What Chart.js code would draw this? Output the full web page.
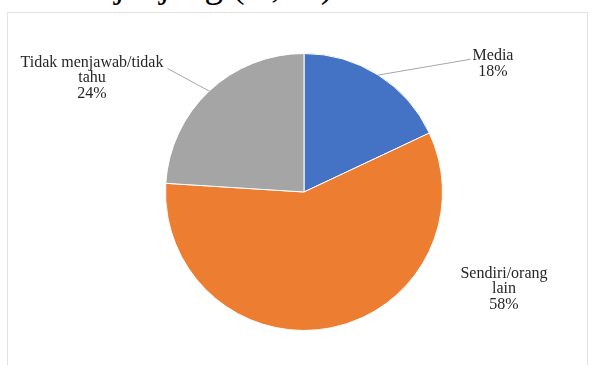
<!DOCTYPE html>
<html>
<head>
<meta charset="utf-8">
<script src="https://cdn.jsdelivr.net/npm/chart.js@4.4.1/dist/chart.umd.min.js"></script>
<style>
  html, body { margin: 0; padding: 0; background: #fff; overflow: hidden; }
  #page { position: relative; width: 595px; height: 365px; overflow: hidden; }
  #caption {
    position: absolute; right: 262px; top: 0; height: 8px; overflow: hidden;
    font: 37px "Liberation Serif", serif; line-height: 8px;
    white-space: nowrap; color: #000;
  }
  #caption span { position: relative; top: -19px; }
  #frame {
    position: absolute; left: 7px; top: 12px; width: 581px; height: 370px;
    border: 1px solid #e3e3e3; box-sizing: border-box;
  }
  #chart { position: absolute; left: 0; top: 0; }
</style>
</head>
<body>
<div id="page">
  <div id="caption"><span>Sumber informasi menurut jenjang (N, %)</span></div>
  <div id="frame"></div>
  <canvas id="chart" width="595" height="365"></canvas>
</div>
<script>
const labels = ["Media", "Sendiri/orang lain", "Tidak menjawab/tidak tahu"];
const values = [18, 58, 24];
const labelLines = [["Media", "18%"], ["Sendiri/orang", "lain", "58%"], ["Tidak menjawab/tidak", "tahu", "24%"]];
const colors = ["#4472c4", "#ed7d31", "#a5a5a5"];

// where each label block sits, relative to the pie centre, and whether it gets a leader line
const labelSpots = [
  { dx: 189, dy: -128, leader: true },
  { dx: 200, dy: 97, leader: false },
  { dx: -212, dy: -114, leader: true }
];

const outsideLabels = {
  id: 'outsideLabels',
  afterDatasetsDraw(chart) {
    const ctx = chart.ctx;
    const arcs = chart.getDatasetMeta(0).data;
    ctx.save();
    ctx.font = '16px "Liberation Serif", serif';
    ctx.textAlign = 'center';
    ctx.textBaseline = 'middle';
    arcs.forEach((arc, i) => {
      const { x, y, startAngle, endAngle, outerRadius } = arc.getProps(['x', 'y', 'startAngle', 'endAngle', 'outerRadius'], true);
      const spot = labelSpots[i];
      const lines = labelLines[i];
      const lx = x + spot.dx;
      const ly = y + spot.dy;
      const lh = 15.5;
      const top = ly - (lines.length - 1) * lh / 2;
      if (spot.leader) {
        const mid = (startAngle + endAngle) / 2;
        const sx = x + Math.cos(mid) * outerRadius;
        const sy = y + Math.sin(mid) * outerRadius;
        const half = ctx.measureText(lines[0]).width / 2;
        const ex = spot.dx > 0 ? lx - half - 2 : lx + half + 4;
        const ey = spot.dx > 0 ? top + 3 : top + 6;
        ctx.strokeStyle = '#a6a6a6';
        ctx.lineWidth = 1;
        ctx.beginPath();
        ctx.moveTo(sx, sy);
        ctx.lineTo(ex, ey);
        ctx.stroke();
      }
      ctx.fillStyle = '#262626';
      lines.forEach((t, k) => ctx.fillText(t, lx, top + k * lh));
    });
    ctx.restore();
  }
};

new Chart(document.getElementById('chart'), {
  type: 'pie',
  data: {
    labels: labels,
    datasets: [{
      data: values,
      backgroundColor: colors,
      borderColor: '#ffffff',
      borderWidth: 1
    }]
  },
  options: {
    responsive: false,
    animation: false,
    layout: { padding: { left: 100, right: 87, top: 53, bottom: 34 } },
    plugins: {
      legend: { display: false },
      tooltip: { enabled: false }
    }
  },
  plugins: [outsideLabels]
});
</script>
</body>
</html>
